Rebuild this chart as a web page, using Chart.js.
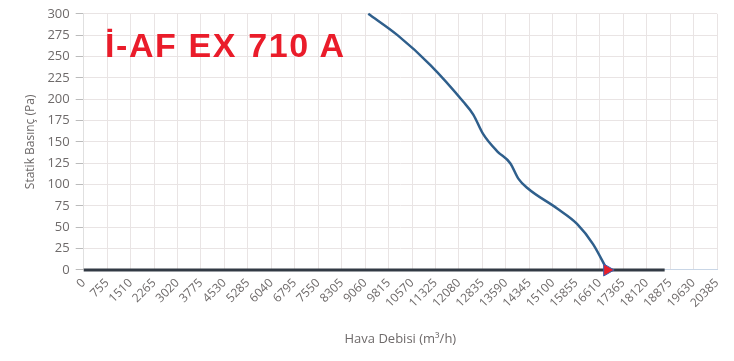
<!DOCTYPE html>
<html>
<head>
<meta charset="utf-8">
<script src="https://cdn.jsdelivr.net/npm/chart.js@4"></script>
<style>
  body { margin: 0; background: #fff; }
  #kutu { position: relative; width: 734px; height: 361px; }
  #baslik {
    position: absolute; left: 105px; top: 26px;
    font-family: 'Liberation Sans', Arial, sans-serif; font-weight: bold;
    font-size: 34px; letter-spacing: 1.6px; color: #ea1c2a;
  }
</style>
</head>
<body>
<div id="kutu">
  <canvas id="grafik" width="734" height="361"></canvas>
  <div id="baslik">İ-AF EX 710 A</div>
</div>
<script>
const debiEtiketleri = [0, 755, 1510, 2265, 3020, 3775, 4530, 5285, 6040, 6795, 7550, 8305, 9060, 9815,
  10570, 11325, 12080, 12835, 13590, 14345, 15100, 15855, 16610, 17365, 18120, 18875, 19630, 20385];
const basincEtiketleri = [0, 25, 50, 75, 100, 125, 150, 175, 200, 225, 250, 275, 300];

const debi = [9160, 10100, 11160, 12220, 12540, 12860, 13310, 13730, 13990, 14280, 15240, 15880, 16400, 16850];
const basinc = [300, 275, 240, 197, 182, 159, 139, 125, 107, 96, 72, 54, 30, 0];

const sifirDebi = [0, 18700];
const sifirBasinc = [0, 0];

const yaziRengi = '#6e6a6a';
const izgara = '#e9e4e4';

const ctx = document.getElementById('grafik').getContext('2d');
new Chart(ctx, {
  type: 'line',
  data: {
    datasets: [
      {
        data: sifirDebi.map((x, i) => ({ x: x, y: sifirBasinc[i] })),
        borderColor: '#323a44',
        borderWidth: 3,
        pointRadius: 0,
        clip: false,
        order: 2
      },
      {
        data: debi.map((x, i) => ({ x: x, y: basinc[i] })),
        borderColor: '#2f5f8c',
        borderWidth: 2.5,
        cubicInterpolationMode: 'monotone',
        pointStyle: 'triangle',
        rotation: 90,
        pointRadius: c => c.dataIndex === debi.length - 1 ? 7 : 0,
        pointBackgroundColor: '#e8202a',
        pointBorderColor: '#3a5fb0',
        pointBorderWidth: 1,
        clip: false,
        order: 1
      }
    ]
  },
  options: {
    responsive: false,
    animation: false,
    layout: { padding: { top: 5, right: 17, bottom: 6, left: 19 } },
    plugins: { legend: { display: false }, tooltip: { enabled: false } },
    scales: {
      x: {
        type: 'linear',
        min: 0,
        max: 20385,
        afterBuildTicks: ax => { ax.ticks = debiEtiketleri.map(v => ({ value: v })); },
        ticks: {
          autoSkip: false,
          maxRotation: 45,
          minRotation: 45,
          color: yaziRengi,
          font: { family: 'Open Sans', size: 12 },
          padding: 6,
          callback: v => String(v)
        },
        grid: { color: izgara, drawTicks: false },
        border: { color: '#c9d6e6' },
        title: {
          display: true,
          text: 'Hava Debisi (m³/h)',
          color: yaziRengi,
          font: { family: 'Open Sans', size: 13 },
          padding: { top: 15, bottom: 8 }
        }
      },
      y: {
        min: 0,
        max: 300,
        afterBuildTicks: ax => { ax.ticks = basincEtiketleri.map(v => ({ value: v })); },
        ticks: {
          color: yaziRengi,
          font: { family: 'Open Sans', size: 13 },
          padding: 6
        },
        grid: { color: izgara, tickColor: '#bbb', tickLength: 8 },
        border: { color: '#e0e0e0' },
        title: {
          display: true,
          text: 'Statik Basınç (Pa)',
          color: yaziRengi,
          font: { family: 'Open Sans', size: 12 }
        }
      }
    }
  }
});
</script>
</body>
</html>
